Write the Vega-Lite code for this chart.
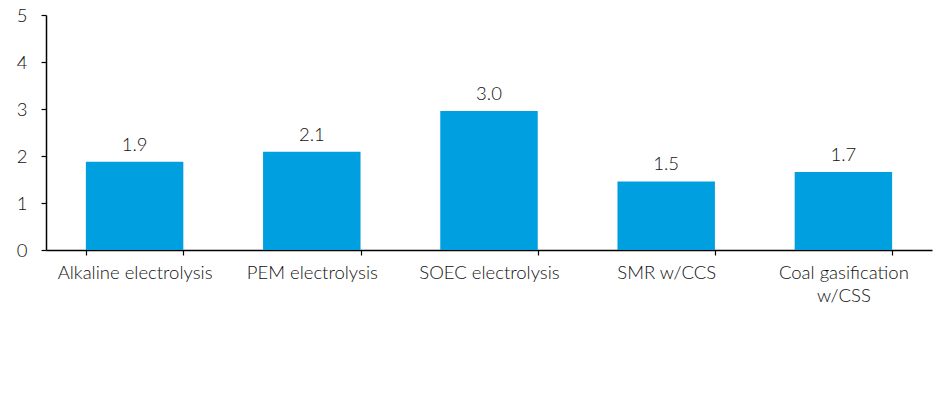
{
  "$schema": "https://vega.github.io/schema/vega-lite/v6.json",
  "width": 886,
  "height": 235,
  "autosize": {"type": "none"},
  "padding": {"left": 46, "top": 15, "right": 7, "bottom": 157},
  "background": "white",
  "config": {"view": {"stroke": null}, "font": "Lato"},
  "data": {"values": [
    {"tech": "Alkaline electrolysis", "cost": 1.88},
    {"tech": "PEM electrolysis", "cost": 2.09},
    {"tech": "SOEC electrolysis", "cost": 2.96},
    {"tech": "SMR w/CCS", "cost": 1.46},
    {"tech": "Coal gasification w/CSS", "cost": 1.66}
  ]},
  "encoding": {
    "x": {"field": "tech", "type": "nominal", "sort": null,
      "scale": {"paddingInner": 0.45, "paddingOuter": 0.225},
      "axis": {"title": null, "labelAngle": 0, "domainColor": "black", "domainWidth": 1.5,
        "tickBand": "extent", "tickColor": "black", "tickWidth": 1.2, "tickSize": 5,
        "labelFontSize": 18.5, "labelFontWeight": 300, "labelColor": "#111111", "labelPadding": 8, "labelLineHeight": 23,
        "labelBaseline": "top",
        "labelExpr": "datum.label == 'Coal gasification w/CSS' ? ['Coal gasification', 'w/CSS'] : datum.label"}},
    "y": {"field": "cost", "type": "quantitative",
      "scale": {"domain": [0, 5], "nice": false},
      "axis": {"title": null, "values": [0, 1, 2, 3, 4, 5], "grid": false, "domainColor": "black",
        "domainWidth": 1.5, "tickColor": "black", "tickSize": 5, "tickWidth": 1.2,
        "labelFontSize": 18.5, "labelFontWeight": 300, "labelColor": "#111111", "labelPadding": 14}}
  },
  "layer": [
    {"mark": {"type": "bar", "color": "#009fdf"}},
    {"mark": {"type": "text", "baseline": "bottom", "dy": -7, "fontSize": 18.5, "fontWeight": 300, "color": "#111111"},
      "encoding": {"text": {"field": "cost", "type": "quantitative", "format": ".1f"}}}
  ]
}
